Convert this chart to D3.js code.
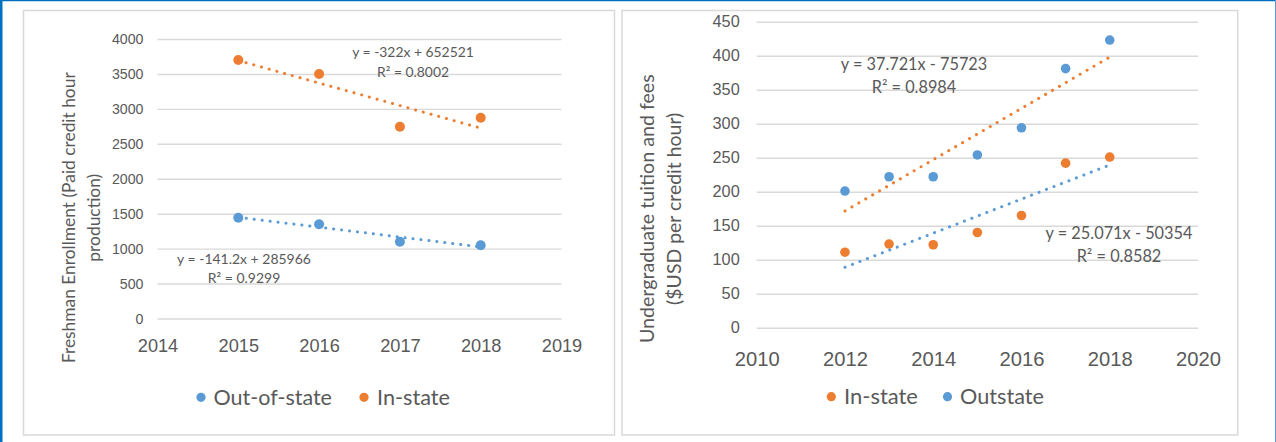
<!DOCTYPE html>
<html>
<head>
<meta charset="utf-8">
<script src="https://cdn.jsdelivr.net/npm/d3@7"></script>
<style>
  html, body { margin: 0; padding: 0; background: #fff; }
  svg { display: block; font-family: Lato, "Open Sans", sans-serif; }
</style>
</head>
<body>
<svg id="chart" width="1276" height="442"></svg>
<script>
// ---- Freshman enrollment (paid credit hour production) ----
const enrollYears = [2015, 2016, 2017, 2018];
const enrollOutOfState = [1443, 1348, 1099, 1048];
const enrollInState = [3700, 3500, 2745, 2874];
const enrollXTicks = [2014, 2015, 2016, 2017, 2018, 2019];
const enrollYTicks = [0, 500, 1000, 1500, 2000, 2500, 3000, 3500, 4000];
// linear trend fits: [slope, intercept]
const enrollTrendOut = [-141.2, 285966];
const enrollTrendIn = [-322, 652521];
const enrollTrendOutText = ["y = -141.2x + 285966", "R² = 0.9299"];
const enrollTrendInText = ["y = -322x + 652521", "R² = 0.8002"];
const enrollTitle = ["Freshman Enrollment (Paid credit hour", "production)"];
const enrollLegend = ["Out-of-state", "In-state"];

// ---- Undergraduate tuition and fees ($USD per credit hour) ----
const tuitionYears = [2012, 2013, 2014, 2015, 2016, 2017, 2018];
const tuitionInState = [111, 123, 122, 140, 165, 242, 251];
const tuitionOutstate = [201, 222, 222, 254, 294, 381, 423];
const tuitionXTicks = [2010, 2012, 2014, 2016, 2018, 2020];
const tuitionYTicks = [0, 50, 100, 150, 200, 250, 300, 350, 400, 450];
const tuitionTrendOrange = [37.721, -75723];
const tuitionTrendBlue = [25.071, -50354];
const tuitionTrendOrangeText = ["y = 37.721x - 75723", "R² = 0.8984"];
const tuitionTrendBlueText = ["y = 25.071x - 50354", "R² = 0.8582"];
const tuitionTitle = ["Undergraduate tuition and fees", "($USD per credit hour)"];
const tuitionLegend = ["In-state", "Outstate"];

const ORANGE = "#ED7D31";
const BLUE = "#5B9BD5";
const GRID = "#D9D9D9";
const TEXT = "#595959";

const svg = d3.select("#chart");

// set font size so the text spans the given width
function fitWidth(sel, width) {
  const base = 20;
  sel.style("font-size", base + "px");
  const len = sel.node().getComputedTextLength();
  const size = base * width / len;
  sel.style("font-size", size + "px");
  return size;
}

function draw() {
  // outer frame
  svg.append("line").attr("x1", 1.2).attr("x2", 1.2).attr("y1", 0).attr("y2", 442)
    .attr("stroke", "#0070C0").attr("stroke-width", 2.6);
  svg.append("line").attr("x1", 0).attr("x2", 1276).attr("y1", 0.6).attr("y2", 0.6)
    .attr("stroke", "#0070C0").attr("stroke-width", 1.4);
  svg.append("line").attr("x1", 1275.5).attr("x2", 1275.5).attr("y1", 0).attr("y2", 442)
    .attr("stroke", BLUE).attr("stroke-width", 1);

  // panel boxes
  svg.append("rect").attr("x", 23.5).attr("y", 10.5).attr("width", 591).attr("height", 424.5)
    .attr("fill", "#fff").attr("stroke", GRID).attr("stroke-width", 1.5);
  svg.append("rect").attr("x", 622).attr("y", 10.5).attr("width", 1237.7 - 622).attr("height", 424.5)
    .attr("fill", "#fff").attr("stroke", GRID).attr("stroke-width", 1.5);

  function panel(cfg) {
    const g = svg.append("g");
    const x = d3.scaleLinear().domain(cfg.xDomain).range(cfg.xRange);
    const y = d3.scaleLinear().domain(cfg.yDomain).range(cfg.yRange);

    // gridlines and value labels
    const yAxis = d3.axisLeft(y).tickValues(cfg.yTicks).tickSize(-(cfg.xRange[1] - cfg.xRange[0]))
      .tickPadding(cfg.yPad).tickFormat(d3.format("d"));
    const ya = g.append("g").attr("transform", `translate(${cfg.xRange[0]},0)`).call(yAxis);
    ya.select(".domain").remove();
    ya.selectAll(".tick line").attr("stroke", GRID).attr("stroke-width", 1.4);
    ya.selectAll(".tick text").attr("fill", TEXT).attr("font-family", null).attr("font-size", null)
      .style("font-size", cfg.yFont + "px");

    const xAxis = d3.axisBottom(x).tickValues(cfg.xTicks).tickSize(0).tickPadding(0)
      .tickFormat(d3.format("d"));
    const xa = g.append("g").attr("transform", `translate(0,${cfg.xLabelY})`).call(xAxis);
    xa.select(".domain").remove();
    xa.selectAll(".tick text").attr("fill", TEXT).attr("font-family", null).attr("font-size", null)
      .attr("dy", "0.35em").attr("y", 0).style("font-size", cfg.xFont + "px");

    // axis title (two lines, rotated)
    cfg.title.forEach((t, i) => {
      const tx = g.append("text")
        .attr("transform", `translate(${cfg.titlePos[i][0]},${cfg.titlePos[i][1]}) rotate(-90)`)
        .attr("text-anchor", "middle").attr("dy", "0.35em").attr("fill", TEXT).text(t);
      fitWidth(tx, cfg.titleWidths[i]);
    });

    // markers
    cfg.series.forEach(s => {
      g.append("g").selectAll("circle").data(cfg.years.map((yr, i) => [yr, s.values[i]]))
        .join("circle")
        .attr("cx", d => x(d[0])).attr("cy", d => y(d[1])).attr("r", cfg.r).attr("fill", s.color);
    });

    // dotted linear trendlines
    cfg.trends.forEach(t => {
      const x0 = d3.min(cfg.years), x1 = d3.max(cfg.years);
      const pts = [x0, x1].map(v => [x(v), y(t.coef[0] * v + t.coef[1])]);
      g.append("path").attr("d", d3.line()(pts)).attr("fill", "none")
        .attr("stroke", t.color).attr("stroke-width", 3).attr("stroke-linecap", "round")
        .attr("stroke-dasharray", "0.1 7.9");
      // equation label
      let size = null;
      t.text.forEach((line, i) => {
        const tx = g.append("text").attr("x", t.labelX).attr("y", t.labelY[i])
          .attr("text-anchor", "middle").attr("dy", "0.35em").attr("fill", TEXT).text(line);
        if (i === 0) size = fitWidth(tx, t.labelWidth);
        else tx.style("font-size", size + "px");
      });
    });

    // legend
    cfg.legend.forEach((l, i) => {
      g.append("circle").attr("cx", l.dotX).attr("cy", cfg.legendY).attr("r", 4.6).attr("fill", l.color);
      const tx = g.append("text").attr("x", l.textX).attr("y", cfg.legendY).attr("dy", "0.35em")
        .attr("fill", TEXT).text(l.label);
      fitWidth(tx, l.width);
    });
  }

  panel({
    xDomain: [2014, 2019], xRange: [157.5, 561.5],
    yDomain: [0, 4000], yRange: [318.5, 39],
    xTicks: enrollXTicks, yTicks: enrollYTicks,
    yPad: 14, yFont: 14.2, xFont: 18.2, xLabelY: 346,
    title: enrollTitle, titlePos: [[69, 217.7], [93.7, 217.7]], titleWidths: [291, 88],
    years: enrollYears, r: 5,
    series: [
      { values: enrollOutOfState, color: BLUE },
      { values: enrollInState, color: ORANGE }
    ],
    trends: [
      { coef: enrollTrendOut, color: BLUE, text: enrollTrendOutText,
        labelX: 244, labelY: [259, 278], labelWidth: 134 },
      { coef: enrollTrendIn, color: ORANGE, text: enrollTrendInText,
        labelX: 413, labelY: [51.7, 71.7], labelWidth: 121.7 }
    ],
    legendY: 397.3,
    legend: [
      { label: enrollLegend[0], color: BLUE, dotX: 201, textX: 213.5, width: 118.5 },
      { label: enrollLegend[1], color: ORANGE, dotX: 364, textX: 377, width: 73 }
    ]
  });

  panel({
    xDomain: [2010, 2020], xRange: [756.7, 1198],
    yDomain: [0, 450], yRange: [327.7, 21.7],
    xTicks: tuitionXTicks, yTicks: tuitionYTicks,
    yPad: 17, yFont: 16.3, xFont: 20.2, xLabelY: 359,
    title: tuitionTitle, titlePos: [[647.2, 208.7], [674.4, 208.8]], titleWidths: [269, 192.3],
    years: tuitionYears, r: 4.8,
    series: [
      { values: tuitionInState, color: ORANGE },
      { values: tuitionOutstate, color: BLUE }
    ],
    trends: [
      { coef: tuitionTrendOrange, color: ORANGE, text: tuitionTrendOrangeText,
        labelX: 914, labelY: [64.3, 87.3], labelWidth: 146.5 },
      { coef: tuitionTrendBlue, color: BLUE, text: tuitionTrendBlueText,
        labelX: 1119, labelY: [233, 256.7], labelWidth: 147 }
    ],
    legendY: 396.7,
    legend: [
      { label: tuitionLegend[0], color: ORANGE, dotX: 831.3, textX: 844, width: 74 },
      { label: tuitionLegend[1], color: BLUE, dotX: 947.5, textX: 960, width: 84 }
    ]
  });
}

if (document.fonts && document.fonts.ready) {
  document.fonts.ready.then(draw);
} else {
  draw();
}
</script>
</body>
</html>
